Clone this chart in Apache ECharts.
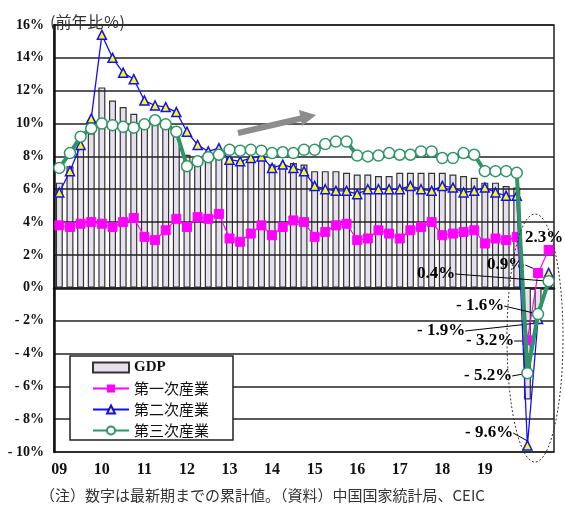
<!DOCTYPE html>
<html>
<head>
<meta charset="utf-8">
<script src="https://cdn.jsdelivr.net/npm/echarts@6/dist/echarts.min.js"></script>
<style>
  html, body { margin: 0; padding: 0; background: #fff; }
  #chart { width: 565px; height: 508px; }
</style>
</head>
<body>
<div id="chart"></div>
<script>
// 四半期（累計）2009Q1〜2020Q3
const yearLabels = ['09', '10', '11', '12', '13', '14', '15', '16', '17', '18', '19', '20']
const quarterNames = ['Q1', 'Q2', 'Q3', 'Q4']
const quarterCount = 47
const categories = []
for (let i = 0; i < quarterCount; i++) {
  categories.push(yearLabels[Math.floor(i / 4)] + quarterNames[i % 4])
}
// 目盛りを付ける年（20年は表示しない）
const tickYears = ['09', '10', '11', '12', '13', '14', '15', '16', '17', '18', '19']

const gdp = [
  6.4, 7.4, 8.5, 9.4, 12.2, 11.4, 11.0, 10.6, 10.2, 10.0, 9.8, 9.6,
  8.1, 7.9, 7.8, 7.9, 7.9, 7.7, 7.8, 7.8, 7.5, 7.5, 7.6, 7.5,
  7.1, 7.1, 7.1, 7.0, 6.9, 6.9, 6.8, 6.8, 7.0, 7.0, 7.0, 7.0,
  7.0, 6.9, 6.8, 6.7, 6.4, 6.4, 6.2, 6.1, -6.8, -1.6, 0.7
]
const primary = [
  3.8, 3.7, 3.9, 4.0, 3.9, 3.7, 4.0, 4.25, 3.1, 2.9, 3.5, 4.2,
  3.7, 4.3, 4.2, 4.5, 3.0, 2.8, 3.3, 3.8, 3.2, 3.7, 4.1, 4.0,
  3.1, 3.4, 3.8, 3.9, 2.9, 3.0, 3.5, 3.3, 3.0, 3.5, 3.7, 4.0,
  3.2, 3.3, 3.4, 3.5, 2.7, 3.0, 2.9, 3.1, -3.2, 0.9, 2.3
]
const secondary = [
  5.8, 7.1, 8.7, 10.3, 15.4, 14.0, 13.1, 12.7, 11.4, 11.1, 11.0, 10.7,
  9.5, 8.7, 8.3, 8.5, 7.8, 7.7, 7.9, 8.0, 7.3, 7.5, 7.3, 7.1,
  6.2, 6.0, 5.9, 5.9, 5.7, 6.0, 6.0, 6.0, 6.0, 6.2, 6.0, 5.9,
  6.2, 6.1, 5.8, 5.9, 6.1, 5.8, 5.6, 5.6, -9.6, -1.9, 0.9
]
const tertiary = [
  7.3, 8.2, 9.2, 9.7, 10.0, 9.9, 9.8, 9.75, 9.95, 10.2, 9.95, 9.5,
  7.4, 7.7, 7.95, 8.1, 8.4, 8.35, 8.4, 8.35, 8.2, 8.25, 8.2, 8.4,
  8.4, 8.75, 8.9, 8.9, 8.05, 8.0, 8.05, 8.2, 8.1, 8.1, 8.3, 8.3,
  7.9, 7.9, 8.2, 8.1, 7.1, 7.1, 7.1, 7.0, -5.2, -1.6, 0.4
]
const seriesNames = ['GDP', '第一次産業', '第二次産業', '第三次産業']

// 2020年の注記ラベル位置（系列番号-データ番号）
const callouts = {
  '1-44': { x: 466, y: 341, line: true },
  '1-45': { x: 487, y: 265, line: true },
  '1-46': { x: 525, y: 238, line: false },
  '2-44': { x: 465, y: 433, line: true },
  '2-45': { x: 417, y: 331, line: true },
  '3-44': { x: 464, y: 376, line: true },
  '3-45': { x: 456, y: 306, line: true },
  '3-46': { x: 417, y: 274, line: true }
}

const serif = 'Liberation Serif, DejaVu Serif, serif'
const jp = 'Noto Sans CJK JP, sans-serif'

function withCallouts(values, seriesIndex) {
  return values.map((v, i) => {
    const c = callouts[seriesIndex + '-' + i]
    if (!c) return v
    return { value: v, label: { show: true }, labelLine: { show: c.line } }
  })
}

function pct(v) {
  return (v < 0 ? '- ' : '') + Math.abs(v) + '%'
}

const calloutLabel = {
  show: false,
  formatter: p => (p.value < 0 ? '- ' : '') + Math.abs(p.value).toFixed(1) + '%',
  fontFamily: serif,
  fontWeight: 'bold',
  fontSize: 17,
  color: '#000'
}
const calloutLine = { show: false, lineStyle: { color: '#000', width: 1 } }
function calloutLayout(params) {
  const c = callouts[params.seriesIndex + '-' + params.dataIndex]
  if (!c) return {}
  return { x: c.x, y: c.y, align: 'left', verticalAlign: 'middle' }
}

const chart = echarts.init(document.getElementById('chart'))
const option = {
  animation: false,
  title: {
    text: '(前年比％)',
    left: 45,
    top: 9,
    textStyle: { fontFamily: jp, fontSize: 16, fontWeight: 'normal', color: '#333' }
  },
  grid: {
    left: 54, right: 11, top: 25, bottom: 56,
    show: true, borderColor: '#222', borderWidth: 1.5
  },
  legend: {
    orient: 'vertical',
    left: 70,
    top: 356,
    padding: [4, 24, 2, 22],
    itemGap: 6,
    itemWidth: 36,
    itemHeight: 10,
    backgroundColor: '#fff',
    borderColor: '#222',
    borderWidth: 1.5,
    data: [
      { name: 'GDP', icon: 'rect' },
      { name: '第一次産業' },
      { name: '第二次産業' },
      { name: '第三次産業' }
    ],
    formatter: name => name === 'GDP' ? '{b|GDP}' : name,
    textStyle: {
      fontFamily: jp, fontSize: 15, color: '#111',
      rich: { b: { fontFamily: serif, fontWeight: 'bold', fontSize: 15, color: '#111' } }
    }
  },
  xAxis: {
    type: 'category',
    data: categories,
    axisLine: { lineStyle: { color: '#111', width: 2.5 } },
    axisTick: { show: false },
    axisLabel: {
      interval: 0,
      margin: 10,
      fontFamily: serif,
      fontWeight: 'bold',
      fontSize: 16,
      color: '#111',
      formatter: (val, idx) => {
        const y = yearLabels[Math.floor(idx / 4)]
        return idx % 4 === 0 && tickYears.includes(y) ? y : ''
      }
    }
  },
  yAxis: {
    type: 'value',
    min: -10,
    max: 16,
    interval: 2,
    z: 2,
    axisLine: { show: true, lineStyle: { color: '#111', width: 2.5 } },
    axisTick: { show: false },
    splitLine: { lineStyle: { color: '#222', width: 1.5 } },
    axisLabel: {
      margin: 10,
      fontFamily: serif,
      fontWeight: 'bold',
      fontSize: 14,
      color: '#111',
      formatter: pct
    }
  },
  series: [
    {
      name: seriesNames[0],
      type: 'bar',
      z: 1,
      barWidth: 7,
      data: gdp,
      itemStyle: { color: '#e5e0ec', borderColor: '#333', borderWidth: 1.2 }
    },
    {
      name: seriesNames[1],
      type: 'line',
      z: 3,
      data: withCallouts(primary, 1),
      symbol: 'rect',
      symbolSize: 9,
      lineStyle: { color: '#ff00ff', width: 1.2 },
      itemStyle: { color: '#ff00ff', borderColor: '#ff00ff' },
      label: calloutLabel,
      labelLine: calloutLine,
      labelLayout: calloutLayout
    },
    {
      name: seriesNames[2],
      type: 'line',
      z: 4,
      data: withCallouts(secondary, 2),
      symbol: 'triangle',
      symbolSize: 9,
      showAllSymbol: true,
      lineStyle: { color: '#1010ff', width: 1.3 },
      itemStyle: { color: '#ffff00', borderColor: '#1010ff', borderWidth: 1.5 },
      label: calloutLabel,
      labelLine: calloutLine,
      labelLayout: calloutLayout
    },
    {
      name: seriesNames[3],
      type: 'line',
      z: 5,
      data: withCallouts(tertiary, 3),
      symbol: 'circle',
      symbolSize: 11,
      showAllSymbol: true,
      lineStyle: { color: '#2f9565', width: 4 },
      itemStyle: { color: '#fff', borderColor: '#2f9565', borderWidth: 1.5 },
      label: calloutLabel,
      labelLine: calloutLine,
      labelLayout: calloutLayout
    }
  ],
  graphic: [
    {
      type: 'ellipse',
      z: 10,
      shape: { cx: 535, cy: 338, rx: 28, ry: 124 },
      style: { fill: 'none', stroke: '#333', lineWidth: 1, lineDash: [2, 2] }
    },
    {
      type: 'line',
      z: 10,
      shape: { x1: 238, y1: 133, x2: 303, y2: 118 },
      style: { stroke: '#8c8c8c', lineWidth: 6 }
    },
    {
      type: 'polygon',
      z: 10,
      shape: { points: [[316, 115], [302, 126], [299, 110]] },
      style: { fill: '#8c8c8c' }
    },
    {
      type: 'text',
      left: 40,
      top: 488,
      style: {
        text: '（注）数字は最新期までの累計値。（資料）中国国家統計局、CEIC',
        fontFamily: jp,
        fontSize: 15,
        fill: '#333'
      }
    }
  ]
}
chart.setOption(option)
</script>
</body>
</html>
